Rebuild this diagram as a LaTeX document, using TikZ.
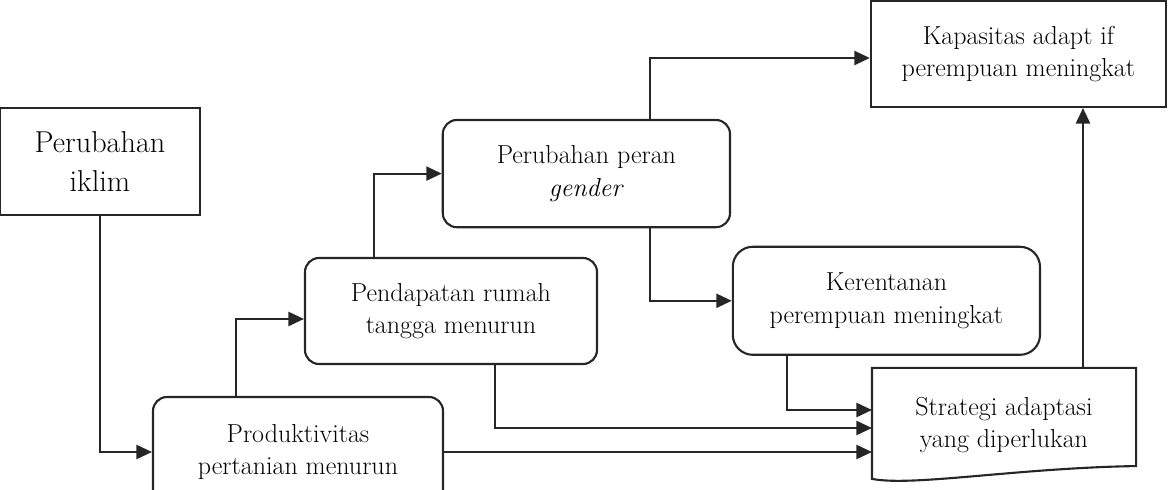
\documentclass[tikz,border=0pt]{standalone}
\usepackage{tikz}
\usetikzlibrary{arrows.meta, positioning, calc}

\begin{document}
\begin{tikzpicture}[
    line width=1.5pt, draw=black!85,
    sqbox/.style={draw, rectangle, align=center, inner sep=2pt, font=\fontsize{18.5}{23}\selectfont},
    rbox/.style={draw, rectangle, rounded corners=0.35cm, align=center, inner sep=2pt, font=\fontsize{18.5}{23}\selectfont},
    arr/.style={-{Triangle[length=11pt, width=10pt]}}
  ]
  \useasboundingbox (0,0) rectangle (29.2,-12.25);

  % Source
  \node[sqbox, minimum width=5cm, minimum height=2.68cm, font=\fontsize{21.5}{28}\selectfont] (iklim) at (2.5,-4.04) {Perubahan\\iklim};

  % Chain of effects
  \node[rbox, minimum width=7.25cm, minimum height=2.75cm] (prod) at (7.45,-11.3) {Produktivitas\\pertanian menurun};
  \node[rbox, minimum width=7.3cm, minimum height=2.65cm] (pend) at (11.275,-7.775) {Pendapatan rumah\\tangga menurun};
  \node[rbox, minimum width=7.18cm, minimum height=2.68cm] (peran) at (14.66,-4.34) {Perubahan peran\\\textit{gender}};
  \node[rbox, rounded corners=0.5cm, minimum width=7.68cm, minimum height=2.7cm] (kerent) at (22.16,-7.52) {Kerentanan\\perempuan meningkat};

  % Outcomes
  \node[sqbox, minimum width=7.375cm, minimum height=2.65cm] (kapas) at (25.46,-1.35) {Kapasitas adapt if\\perempuan meningkat};
  \node[align=center, inner sep=2pt, minimum width=6.55cm, minimum height=2.8cm, font=\fontsize{18.5}{23}\selectfont] (strat) at (25.1,-10.625) {Strategi adaptasi\\yang diperlukan};
  \draw (strat.north west) -- (strat.north east) -- ([yshift=0.4cm]strat.south east)
    .. controls +(-3cm,-0.05cm) and +(1cm,-0.2cm) .. ([yshift=0.08cm]strat.south west) -- cycle;

  % Connectors
  \draw[arr] (iklim.south) |- (prod.west);
  \draw[arr] ([xshift=-1.55cm]prod.north) |- ([yshift=-0.2cm]pend.west);
  \draw[arr] ([xshift=-1.925cm]pend.north) |- (peran.west);
  \draw[arr] ([xshift=1.59cm]peran.north) |- ([yshift=-0.1cm]kapas.west);
  \draw[arr] ([xshift=1.59cm]peran.south) |- (kerent.west);
  \draw[arr] ([xshift=-2.49cm]kerent.south) |- ([yshift=0.375cm]strat.west);
  \draw[arr] ([xshift=1.1cm]pend.south) |- ([yshift=-0.075cm]strat.west);
  \draw[arr] (prod.east) -- (prod.east -| strat.west);
  \coordinate (up) at ([xshift=1.975cm]strat.north);
  \draw[arr] (up) -- (up |- kapas.south);
\end{tikzpicture}
\end{document}
